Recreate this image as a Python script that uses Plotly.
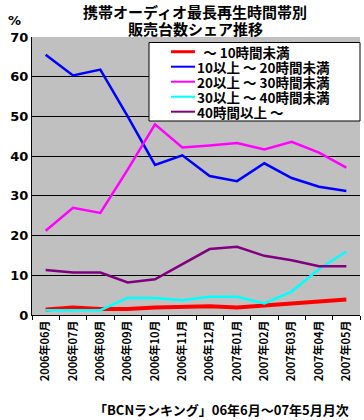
import plotly.graph_objects as go

months = ["2006年06月", "2006年07月", "2006年08月", "2006年09月", "2006年10月", "2006年11月",
          "2006年12月", "2007年01月", "2007年02月", "2007年03月", "2007年04月", "2007年05月"]

s_lt10 = [1.4, 1.9, 1.5, 1.5, 1.9, 2.1, 2.2, 1.9, 2.4, 2.9, 3.3, 3.9]
s_10_20 = [65.5, 60.3, 61.8, 50.0, 37.8, 40.2, 35.0, 33.7, 38.2, 34.5, 32.3, 31.2]
s_20_30 = [21.2, 27.0, 25.7, 36.6, 48.0, 42.2, 42.7, 43.3, 41.7, 43.6, 40.9, 37.1]
s_30_40 = [1.2, 1.2, 1.2, 4.3, 4.3, 3.7, 4.6, 4.6, 2.9, 5.9, 11.6, 16.0]
s_40p = [11.3, 10.7, 10.7, 8.2, 9.0, 12.8, 16.6, 17.2, 14.9, 13.8, 12.3, 12.3]

names = ["～ 10時間未満", "10以上 ～ 20時間未満", "20以上 ～ 30時間未満", "30以上 ～ 40時間未満", "40時間以上 ～"]
values = [s_lt10, s_10_20, s_20_30, s_30_40, s_40p]
colors = ["#FF0000", "#0000FF", "#FF00FF", "#00FFFF", "#800080"]
widths = [4, 2.5, 2.5, 2.5, 2.5]

FONT = "Noto Sans CJK JP"
W, H = 364, 420
ML, MR, MT, MB = 32, 4, 37, 105
PW, PH = W - ML - MR, H - MT - MB


def px(x):
    return (x - ML) / PW


def py(y):
    return (H - MB - y) / PH


fig = go.Figure()
for name, vals, color, w in zip(names, values, colors, widths):
    fig.add_trace(go.Scatter(x=months, y=vals, mode="lines", name=name,
                             line=dict(color=color, width=w)))

# legend box drawn as shapes + one multi-line text block
shapes = [dict(type="rect", xref="paper", yref="paper",
               x0=px(149), x1=px(360), y0=py(121), y1=py(42.5),
               fillcolor="white", line=dict(color="black", width=1), layer="above")]
LEG_TOP, LEG_STEP = 51.7, 15.0
for i, (color, w) in enumerate(zip(colors, widths)):
    yy = LEG_TOP + i * LEG_STEP
    shapes.append(dict(type="line", xref="paper", yref="paper",
                       x0=px(171), x1=px(195), y0=py(yy), y1=py(yy),
                       line=dict(color=color, width=3 if i == 0 else 2), layer="above"))

leg_lines = []
for i, name in enumerate(names):
    prefix = "&nbsp;&nbsp;" if i == 0 else ""
    leg_lines.append('<span style="font-size:13.5px"><b>' + prefix + name + '</b></span>')
leg_text = "<br>".join(leg_lines)

annotations = [
    dict(text=leg_text, xref="paper", yref="paper",
         x=px(196), y=py(LEG_TOP + 2 * LEG_STEP), xanchor="left", yanchor="middle",
         align="left", showarrow=False, borderpad=0,
         font=dict(size=LEG_STEP / 1.3, family=FONT, color="black")),
    dict(text="<b>携帯オーディオ最長再生時間帯別</b>", xref="paper", yref="paper",
         x=px(195), y=py(12), xanchor="center", yanchor="middle", showarrow=False,
         font=dict(size=15, family=FONT, color="black")),
    dict(text="<b>販売台数シェア推移</b>", xref="paper", yref="paper",
         x=px(195), y=py(29), xanchor="center", yanchor="middle", showarrow=False,
         font=dict(size=15, family=FONT, color="black")),
    dict(text="<b>%</b>", xref="paper", yref="paper", x=px(14), y=py(21),
         xanchor="center", yanchor="middle", showarrow=False,
         font=dict(size=13, family="DejaVu Sans", color="black")),
    dict(text="<b>「BCNランキング」06年6月～07年5月月次</b>", xref="paper", yref="paper",
         x=px(351), y=py(409), xanchor="right", yanchor="middle", showarrow=False,
         font=dict(size=13, family=FONT, color="black")),
]

fig.update_layout(
    width=W, height=H,
    margin=dict(l=ML, r=MR, t=MT, b=MB, autoexpand=False),
    paper_bgcolor="white", plot_bgcolor="#C0C0C0",
    font=dict(family=FONT, color="black"),
    showlegend=False,
    shapes=shapes,
    annotations=annotations,
    xaxis=dict(type="category", range=[-0.5, 11.5], showgrid=False, automargin=False,
               showline=True, linecolor="black", linewidth=1,
               ticks="outside", tickson="boundaries", ticklen=4, tickcolor="black",
               tickangle=-90, tickfont=dict(size=11, family=FONT, color="black"),
               tickvals=months, ticktext=["<b>" + m + "</b>" for m in months]),
    yaxis=dict(range=[0, 70], showgrid=True, gridcolor="black", gridwidth=1, automargin=False,
               showline=True, linecolor="black", linewidth=1, zeroline=False,
               ticks="", tickfont=dict(size=13, family="DejaVu Sans", color="black"),
               tickvals=[0, 10, 20, 30, 40, 50, 60, 70],
               ticktext=["<b>%d</b>" % v for v in [0, 10, 20, 30, 40, 50, 60, 70]]),
)

fig.write_html("out.html", config={"displayModeBar": False},
               post_script="document.body.style.margin='0';document.body.style.overflow='hidden';")
